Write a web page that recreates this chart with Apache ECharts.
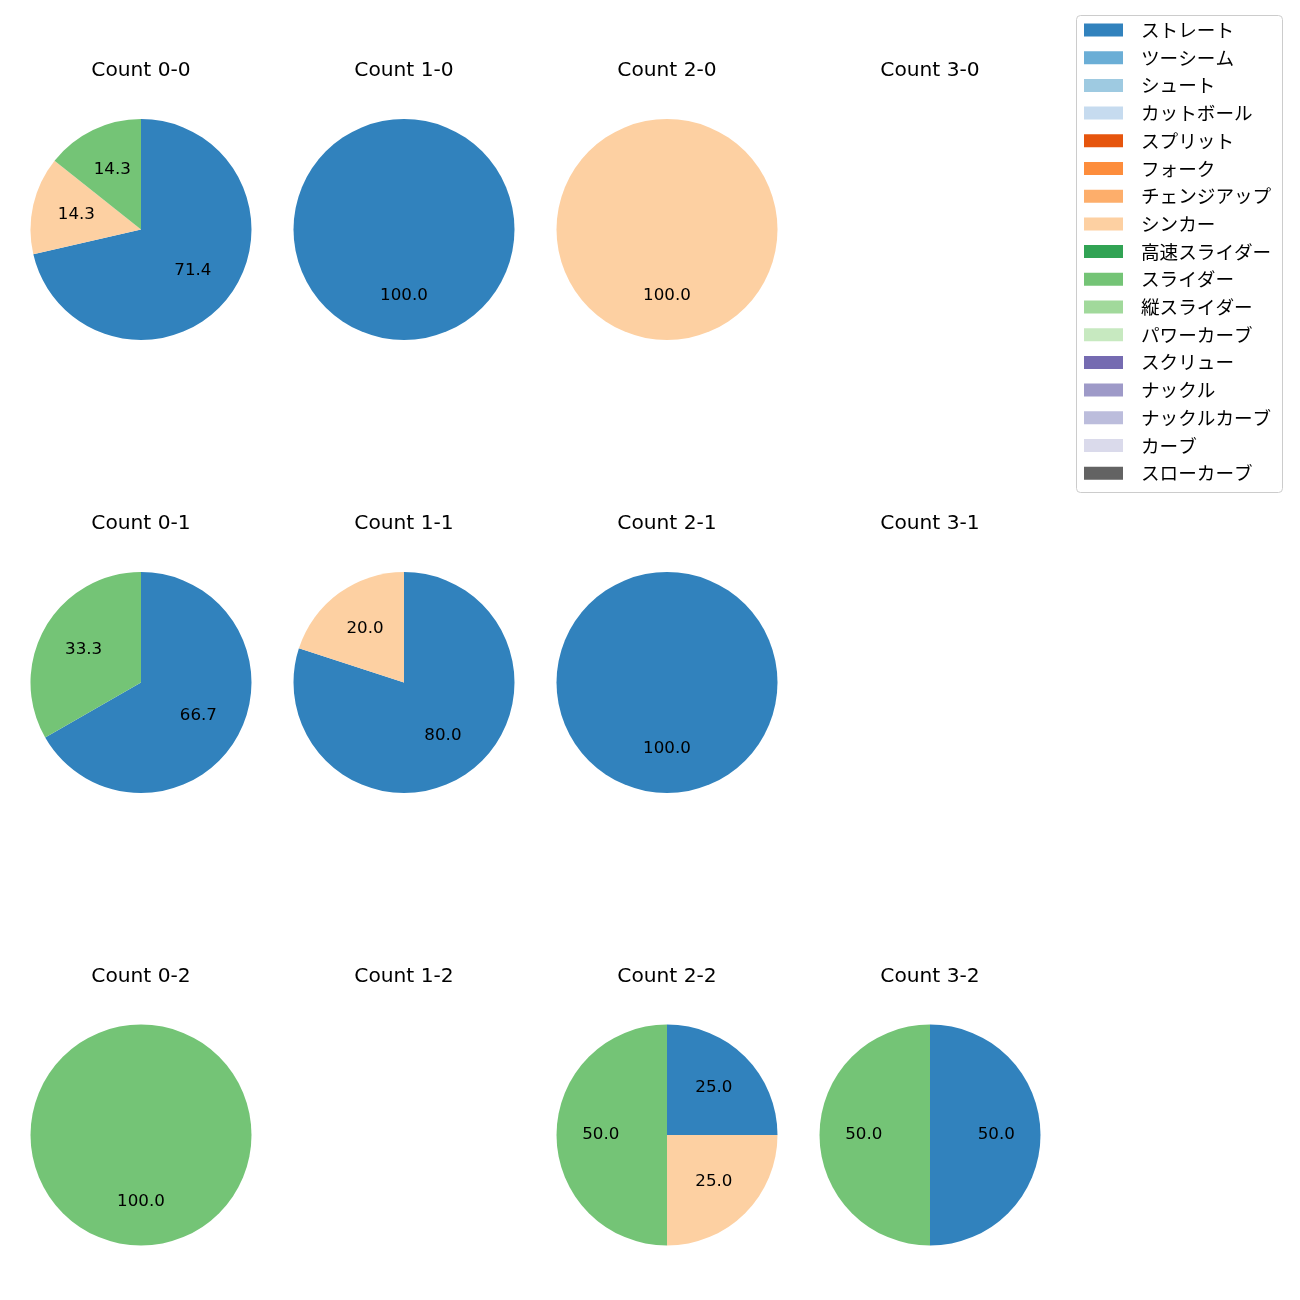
<!DOCTYPE html>
<html>
<head>
<meta charset="utf-8">
<script src="https://cdn.jsdelivr.net/npm/echarts@6/dist/echarts.min.js"></script>
<style>
html,body{margin:0;padding:0;background:#fff;}
#chart{width:1300px;height:1300px;}
</style>
</head>
<body>
<div id="chart"></div>
<script>
// ---- data ----
const pitchTypes = ['ストレート','ツーシーム','シュート','カットボール','スプリット','フォーク','チェンジアップ','シンカー','高速スライダー','スライダー','縦スライダー','パワーカーブ','スクリュー','ナックル','ナックルカーブ','カーブ','スローカーブ'];
const pitchColors = ['#3182bd','#6baed6','#9ecae1','#c6dbef','#e6550d','#fd8d3c','#fdae6b','#fdd0a2','#31a354','#74c476','#a1d99b','#c7e9c0','#756bb1','#9e9ac8','#bcbddc','#dadaeb','#636363'];

const countTitles = ['Count 0-0','Count 1-0','Count 2-0','Count 3-0',
                     'Count 0-1','Count 1-1','Count 2-1','Count 3-1',
                     'Count 0-2','Count 1-2','Count 2-2','Count 3-2'];

const slices00 = ['ストレート','シンカー','スライダー']; const share00 = [71.4, 14.3, 14.3];
const slices10 = ['ストレート'];                         const share10 = [100.0];
const slices20 = ['シンカー'];                           const share20 = [100.0];
const slices30 = [];                                     const share30 = [];
const slices01 = ['ストレート','スライダー'];            const share01 = [66.7, 33.3];
const slices11 = ['ストレート','シンカー'];              const share11 = [80.0, 20.0];
const slices21 = ['ストレート'];                         const share21 = [100.0];
const slices31 = [];                                     const share31 = [];
const slices02 = ['スライダー'];                         const share02 = [100.0];
const slices12 = [];                                     const share12 = [];
const slices22 = ['ストレート','シンカー','スライダー']; const share22 = [25.0, 25.0, 50.0];
const slices32 = ['ストレート','スライダー'];            const share32 = [50.0, 50.0];

const cellSlices = [slices00,slices10,slices20,slices30,slices01,slices11,slices21,slices31,slices02,slices12,slices22,slices32];
const cellShares = [share00,share10,share20,share30,share01,share11,share21,share31,share02,share12,share22,share32];

// ---- layout ----
const LATIN = '"DejaVu Sans", "Noto Sans CJK JP", sans-serif';
const CJK = '"Noto Sans CJK JP", "DejaVu Sans", sans-serif';
const colX = [141, 404, 667, 930];
const rowY = [229.5, 682.5, 1135];
const titleY = [71, 523.7, 976.4];
const R = 110.5;

function colorOf(n){ return pitchColors[pitchTypes.indexOf(n)]; }

const titles = [];
const series = [];

// hidden series that only feeds the legend with all pitch types
series.push({
  type:'pie', center:[-500,-500], radius:[0,0], silent:true, animation:false,
  label:{show:false}, labelLine:{show:false},
  data: pitchTypes.map((n,i)=>({name:n, value:1, itemStyle:{color:pitchColors[i]}}))
});

cellSlices.forEach((names, k) => {
  const c = k % 4, r = Math.floor(k / 4);
  titles.push({
    text: countTitles[k], left: colX[c], top: titleY[r],
    textAlign:'center', textVerticalAlign:'middle', padding:0,
    textStyle:{fontFamily:LATIN, fontSize:20.2, fontWeight:'normal', color:'#000'}
  });
  if (!names.length) return;
  const vals = cellShares[k];
  const total = vals.reduce((a,b)=>a+b,0);
  series.push({
    type:'pie', center:[colX[c], rowY[r]], radius:[0, R], startAngle:90, clockwise:true,
    silent:true, animation:false, avoidLabelOverlap:false,
    label:{show:false}, labelLine:{show:false},
    itemStyle:{borderWidth:0},
    emphasis:{disabled:true},
    data: names.map((n,i)=>({name:n, value:vals[i], itemStyle:{color:colorOf(n)}}))
  });
  series.push({
    type:'pie', center:[colX[c], rowY[r]], radius:[0.145*R, R], startAngle:90, clockwise:true,
    silent:true, animation:false, avoidLabelOverlap:false,
    itemStyle:{color:'rgba(0,0,0,0)', borderWidth:0},
    label:{show:true, position:'inside', color:'#000', fontFamily:LATIN, fontSize:16.7,
      padding:[0,0,4,0],
      formatter: p => (p.value / total * 100).toFixed(1)},
    labelLine:{show:false},
    emphasis:{disabled:true},
    data: names.map((n,i)=>({name:n, value:vals[i]}))
  });
});

const chart = echarts.init(document.getElementById('chart'), null, {renderer:'canvas'});
chart.setOption({
  animation:false,
  title: titles,
  graphic: [{
    type:'rect', z:0, silent:true,
    shape:{x:1076.5, y:15.5, width:206, height:477, r:4},
    style:{fill:'rgba(255,255,255,0.8)', stroke:'#cccccc', lineWidth:1}
  }],
  legend: {
    orient:'vertical', left:1084, top:20, padding:0,
    itemWidth:39, itemHeight:13, itemGap:7.7,
    icon:'rect', selectedMode:false,
    textStyle:{fontFamily:CJK, fontSize:18.6, color:'#000', lineHeight:20, padding:[0,0,0,13]},
    data: pitchTypes
  },
  series: series
});
</script>
</body>
</html>
